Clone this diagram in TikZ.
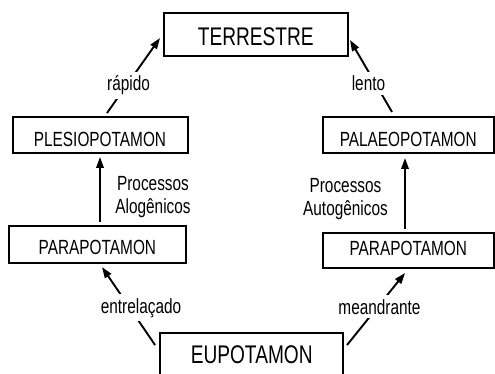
\documentclass[tikz,border=0pt]{standalone}
\usepackage{fontspec}
\setmainfont{Liberation Sans}[FakeStretch=0.75]
\usetikzlibrary{arrows.meta}
\begin{document}
\begin{tikzpicture}[x=1pt,y=-1pt,
  box/.style={draw, line width=2pt, outer sep=0pt, inner sep=0pt,
    font=\fontsize{20.5}{23}\selectfont, text height=14.7pt, text depth=0pt},
  bigbox/.style={box, font=\fontsize{25.5}{29}\selectfont, text height=18.3pt},
  conn/.style={line width=1.9pt, -{Triangle[length=11pt,width=7.5pt]}},
  lbl/.style={fill=white, inner xsep=2pt, inner ysep=4pt,
    font=\fontsize{20.5}{23}\selectfont},
  note/.style={align=center, inner sep=0pt, font=\fontsize{20.5}{23}\selectfont}]
\useasboundingbox (0,0) rectangle (495,374);
\clip (0,0) rectangle (495,374);
\fill[white] (0,0) rectangle (495,374);
% boxes
\node[bigbox, minimum width=183.5pt, minimum height=43.5pt, text height=20.8pt] (terr) at (255.75,34.75) {TERRESTRE};
\node[box, minimum width=175pt, minimum height=36pt, text height=22.4pt] (plesio) at (100,135.4) {PLESIOPOTAMON};
\node[box, minimum width=171.5pt, minimum height=35.5pt, text height=22.4pt] (palaeo) at (408.25,135.25) {PALAEOPOTAMON};
\node[box, minimum width=176.8pt, minimum height=36.7pt, text height=19.4pt] (parL) at (97.4,244.7) {PARAPOTAMON};
\node[box, minimum width=171.5pt, minimum height=35pt, text depth=3.4pt] (parR) at (408.25,250.2) {PARAPOTAMON};
\node[bigbox, minimum width=183.3pt, minimum height=42.6pt] (eupot) at (251.7,354) {EUPOTAMON};
% connectors
\draw[conn] ([xshift=7pt,yshift=4.4pt]plesio.north) -- ([xshift=-4pt,yshift=-3.25pt]terr.west);
\draw[conn] ([xshift=-16.25pt,yshift=5.5pt]palaeo.north) -- ([xshift=2.5pt,yshift=-5.25pt]terr.east);
\draw[conn] ([xshift=2.6pt,yshift=4.3pt]parL.north) -- ([xshift=2.6pt,yshift=-3.6pt]parL.north |- plesio.south);
\draw[conn] ([xshift=-3.25pt,yshift=3.7pt]parR.north) -- ([xshift=-3.25pt,yshift=-5pt]palaeo.south);
\draw[conn] ([xshift=-5pt,yshift=9pt]eupot.west) -- ([xshift=4.6pt,yshift=-4pt]parL.south);
\draw[conn] ([xshift=3.7pt,yshift=9pt]eupot.east) -- ([xshift=-3.25pt,yshift=-5.3pt]parR.south);
% labels
\node[lbl, anchor=base] (rapido) at (128.5,91) {rápido};
\node[lbl, anchor=base] (lento) at (368.5,91) {lento};
\node[lbl, anchor=base] (entre) at (141,313) {entrelaçado};
\node[lbl, anchor=base] (meand) at (379.5,314) {meandrante};
\node[note] (alog) at (153,196.6) {Processos\\Alogênicos};
\node[note] (autog) at (345.5,199.5) {Processos\\Autogênicos};
\end{tikzpicture}
\end{document}
